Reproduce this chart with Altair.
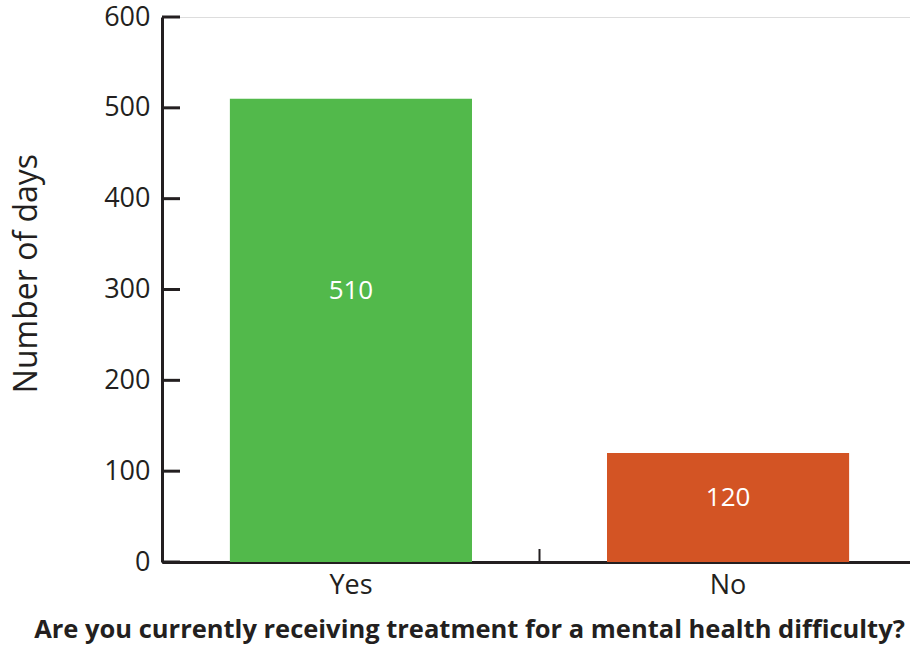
import altair as alt
import pandas as pd

# Survey answers and the number of days reported for each
answers = ["Yes", "No"]
days = [510, 120]
bar_colors = ["#52b94b", "#d35424"]
y_ticks = [0, 100, 200, 300, 400, 500, 600]

W, H = 748, 545
X_RANGE = 755
FONT = "Open Sans"
INK = "#231f20"

df = pd.DataFrame({"answer": answers, "days": days, "color": bar_colors})
ticks_df = pd.DataFrame({"v": y_ticks})

x_scale = alt.Scale(domain=answers, range=[0, X_RANGE], paddingInner=0.358, paddingOuter=0.18)
y_scale = alt.Scale(domain=[0, 600], nice=False)

bars = alt.Chart(df).mark_bar().encode(
    x=alt.X(
        "answer:N",
        scale=x_scale,
        sort=answers,
        axis=alt.Axis(
            title="Are you currently receiving treatment for a mental health difficulty?",
            titleFont=FONT,
            titleFontSize=25.5,
            titleFontWeight="bold",
            titleColor=INK,
            titleX=307,
            titleY=67,
            titleBaseline="middle",
            labelFont=FONT,
            labelFontSize=27,
            labelColor=INK,
            labelAngle=0,
            labelPadding=10,
            ticks=False,
            grid=False,
            domainColor=INK,
            domainWidth=3,
        ),
    ),
    y=alt.Y(
        "days:Q",
        scale=y_scale,
        axis=alt.Axis(
            title="Number of days",
            titleFont=FONT,
            titleFontSize=32,
            titleFontWeight="normal",
            titleColor=INK,
            titleAngle=-90,
            titleX=-136,
            titleY=256,
            titleAlign="center",
            titleBaseline="middle",
            values=y_ticks,
            labelFont=FONT,
            labelFontSize=27,
            labelColor=INK,
            labelPadding=12,
            ticks=False,
            grid=False,
            domainColor=INK,
            domainWidth=3,
        ),
    ),
    color=alt.Color("color:N", scale=None),
)

labels = alt.Chart(df).transform_calculate(
    pos="datum.days * 0.585"
).mark_text(font=FONT, fontSize=26, color="white", baseline="middle").encode(
    x=alt.X("answer:N", scale=x_scale, sort=answers),
    y=alt.Y("pos:Q", scale=y_scale),
    text=alt.Text("days:Q"),
)

# Inward-facing ticks on the value axis
y_tick_marks = alt.Chart(ticks_df).mark_rule(color=INK, strokeWidth=3).encode(
    x=alt.value(0),
    x2=alt.value(18),
    y=alt.Y("v:Q", scale=y_scale),
)

# Divider tick between the two categories on the bottom axis
mid_tick = alt.Chart(df.head(1)).mark_rule(color=INK, strokeWidth=2).encode(
    x=alt.value(X_RANGE / 2),
    y=alt.value(H),
    y2=alt.value(H - 13),
)

chart = alt.layer(bars, labels, y_tick_marks, mid_tick).properties(
    width=W,
    height=H,
    autosize=alt.AutoSizeParams(type="none"),
    padding={"left": 162, "top": 17, "right": 0, "bottom": 86},
).configure_view(stroke=None).configure(background="white")

chart.save("out.html", embed_options={"renderer": "svg", "actions": False})
